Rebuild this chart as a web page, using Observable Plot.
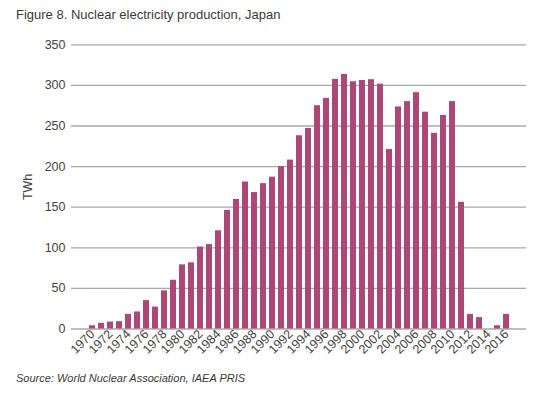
<!DOCTYPE html>
<html>
<head>
<meta charset="utf-8">
<script src="https://cdn.jsdelivr.net/npm/d3@7"></script>
<script src="https://cdn.jsdelivr.net/npm/@observablehq/plot@0.6"></script>
<style>
  body { margin: 0; background: #fff; font-family: "Liberation Sans", Arial, sans-serif; }
  #wrap { width: 547px; height: 394px; position: relative; overflow: hidden; }
  #title { height: 30px; box-sizing: border-box; padding: 7px 0 0 16px; font-size: 13px; color: #3a3a3a; }
  #caption { padding: 0 0 0 16px; font-size: 11px; font-style: italic; color: #3a3a3a; margin-top: 2px; }
  svg text { fill: #444; }
</style>
</head>
<body>
<div id="wrap">
  <div id="title">Figure 8. Nuclear electricity production, Japan</div>
  <div id="chart"></div>
  <div id="caption">Source: World Nuclear Association, IAEA PRIS</div>
</div>
<script>
const years = d3.range(1970, 2017);
const twh = [
  4, 7, 8.5, 9, 18, 21, 35, 27, 47, 60,
  79, 81.5, 101, 104, 121, 146, 159.5, 181, 168, 179,
  187, 200, 208, 238, 247, 275, 284, 307.5, 313.5, 304.5,
  306, 307, 301.5, 221, 273.5, 280, 291, 267, 241, 263,
  280, 156, 18, 14, 0, 4, 18
];
const yTicks = [0, 50, 100, 150, 200, 250, 300, 350];
const xTickYears = years.filter(y => y % 2 === 0);
const barColor = "#ad4777";

const data = years.map((y, i) => ({year: y, value: twh[i]}));

const chart = Plot.plot({
  width: 547,
  height: 340,
  marginTop: 14.3,
  marginBottom: 41.5,
  marginLeft: 71,
  marginRight: 21,
  style: {fontSize: "12.5px", fontFamily: "Liberation Sans, Arial, sans-serif", color: "#444"},
  x: {
    type: "band",
    domain: years,
    paddingInner: 0.35,
    paddingOuter: 0.175,
    insetLeft: 13.4,
    insetRight: 12.4,
    ticks: xTickYears,
    tickFormat: d => String(d),
    tickSize: 0,
    tickRotate: -45,
    tickPadding: 3,
    label: null
  },
  y: {
    domain: [0, 350],
    ticks: yTicks,
    tickSize: 0,
    tickPadding: 6,
    label: "TWh",
    labelAnchor: "center",
    labelArrow: "none",
    labelOffset: 48
  },
  marks: [
    Plot.ruleY(yTicks, {stroke: "#a8a8a8", strokeWidth: 1.3}),
    Plot.barY(data, {x: "year", y: "value", fill: barColor})
  ]
});
document.getElementById("chart").appendChild(chart);
</script>
</body>
</html>
